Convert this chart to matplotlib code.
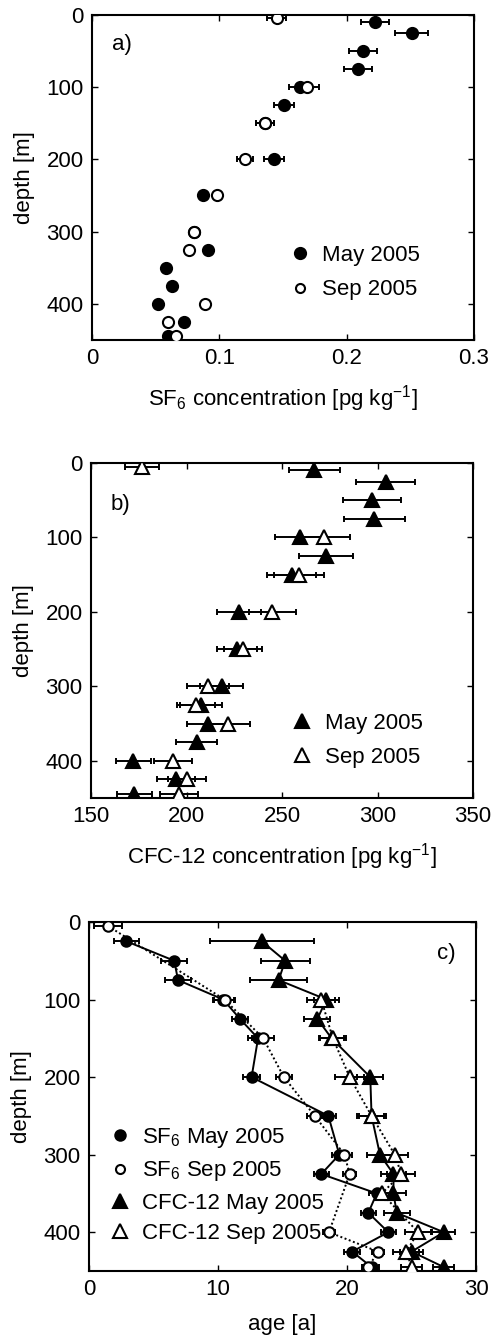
import matplotlib
matplotlib.use('Agg')
import matplotlib.pyplot as plt
from matplotlib.lines import Line2D

# ---- panel a: SF6 concentration [pg/kg] vs depth [m]
sf6_may_depth = [10, 25, 50, 75, 100, 125, 150, 200, 250, 300, 325, 350, 375, 400, 425, 445]
sf6_may_conc = [0.222, 0.251, 0.213, 0.209, 0.163, 0.151, 0.136, 0.143, 0.087, 0.080,
                0.091, 0.058, 0.063, 0.052, 0.072, 0.060]
sf6_may_err = [0.011, 0.013, 0.011, 0.011, 0.008, 0.008, 0.007, 0.008, 0.003, 0.003,
               0.003, 0.003, 0.003, 0.003, 0.003, 0.003]
sf6_sep_depth = [5, 100, 150, 200, 250, 300, 325, 400, 425, 445]
sf6_sep_conc = [0.145, 0.169, 0.136, 0.120, 0.098, 0.080, 0.076, 0.089, 0.060, 0.066]
sf6_sep_err = [0.0075, 0.009, 0.007, 0.0065, 0.003, 0.003, 0.003, 0.003, 0.003, 0.003]

# ---- panel b: CFC-12 concentration [pg/kg] vs depth [m]
cfc_may_depth = [10, 25, 50, 75, 100, 125, 150, 200, 250, 300, 325, 350, 375, 400, 425, 445]
cfc_may_conc = [266.8, 304.3, 297.3, 298.4, 259.4, 273.0, 255.0, 227.5, 226.3, 218.4,
                207.4, 211.4, 205.3, 172.2, 194.3, 172.7]
cfc_may_err = [13.4, 15.4, 15.2, 16.0, 13.0, 14.0, 13.0, 11.7, 10.5, 11.3,
               11.0, 11.3, 10.7, 9.3, 10.0, 9.0]
cfc_sep_depth = [5, 100, 150, 200, 250, 300, 325, 350, 400, 425, 445]
cfc_sep_conc = [176.5, 272.0, 259.0, 245.0, 229.7, 211.0, 205.0, 221.9, 193.1, 200.1, 196.0]
cfc_sep_err = [8.9, 13.6, 13.0, 12.4, 10.0, 11.0, 10.0, 11.3, 9.9, 10.0, 10.0]

# ---- panel c: ages [a] vs depth [m]
age_sf6_may_depth = [25, 50, 75, 100, 125, 150, 200, 250, 300, 325, 350, 375, 400, 425, 445]
age_sf6_may = [2.9, 6.6, 6.9, 10.4, 11.7, 13.1, 12.6, 18.55, 19.4, 18.0, 22.3, 21.65, 23.2, 20.4, 21.9]
age_sf6_may_err = [1.0, 1.0, 1.0, 0.8, 0.65, 0.8, 0.65, 0.6, 0.6, 0.6, 0.6, 0.6, 0.6, 0.6, 0.6]
age_sf6_sep_depth = [5, 100, 150, 200, 250, 300, 325, 400, 425, 445]
age_sf6_sep = [1.45, 10.5, 13.5, 15.1, 17.5, 19.8, 20.2, 18.6, 22.4, 21.65]
age_sf6_sep_err = [1.1, 0.8, 0.85, 0.6, 0.6, 0.6, 0.5, 0.5, 0.5, 0.5]
age_cfc_may_depth = [25, 50, 75, 100, 125, 150, 200, 250, 300, 325, 350, 375, 400, 425, 445]
age_cfc_may = [13.4, 15.2, 14.7, 18.4, 17.7, 18.8, 21.8, 21.9, 22.55, 23.6, 23.6, 23.85, 27.5, 25.0, 27.5]
age_cfc_may_err = [4.0, 1.9, 2.2, 1.0, 1.0, 1.0, 1.0, 1.0, 1.0, 1.0, 1.0, 1.0, 0.9, 0.9, 0.8]
age_cfc_sep_depth = [100, 150, 200, 250, 300, 325, 350, 400, 425, 445]
age_cfc_sep = [18.0, 18.9, 20.2, 21.9, 23.7, 24.2, 22.7, 25.5, 24.6, 25.0]
age_cfc_sep_err = [1.1, 1.0, 1.1, 1.15, 1.0, 1.1, 1.0, 1.0, 1.0, 0.8]

plt.rcParams['font.family'] = ['Liberation Sans', 'DejaVu Sans']
plt.rcParams['mathtext.fontset'] = 'custom'
plt.rcParams['mathtext.rm'] = 'Liberation Sans'
plt.rcParams['mathtext.it'] = 'Liberation Sans:italic'
plt.rcParams['mathtext.default'] = 'regular'

FS = 16


def style(ax, xlim, xticks, xticklabels):
    ax.set_xlim(xlim)
    ax.set_xticks(xticks)
    ax.set_xticklabels(xticklabels)
    ax.set_ylim(450, 0)
    ax.set_yticks([0, 100, 200, 300, 400])
    ax.tick_params(direction='in', top=True, right=True, length=4, width=1,
                   labelsize=FS, pad=6)
    for s in ax.spines.values():
        s.set_linewidth(1.5)
    ax.set_ylabel('depth [m]', fontsize=FS, labelpad=8)


def series(ax, x, d, err, marker, filled, ms, ls='none'):
    ax.errorbar(x, d, xerr=err, fmt='none', ecolor='k', elinewidth=1.4,
                capsize=2.5, capthick=1.4, zorder=2)
    ax.plot(x, d, marker=marker, ls=ls, color='k', lw=1.4,
            mfc='k' if filled else 'white', mec='k', mew=1.5, ms=ms, zorder=3)


def handle(marker, filled, ms):
    return Line2D([], [], marker=marker, ls='none', mfc='k' if filled else 'white',
                  mec='k', mew=1.5, ms=ms)


fig = plt.figure(figsize=(4.92, 13.41), dpi=100)
ax1 = fig.add_axes([0.187, 0.7465, 0.7764, 0.2424])
ax2 = fig.add_axes([0.185, 0.4049, 0.7764, 0.2498])
ax3 = fig.add_axes([0.181, 0.0522, 0.7866, 0.2603])

# a)
series(ax1, sf6_may_conc, sf6_may_depth, sf6_may_err, 'o', True, 8)
series(ax1, sf6_sep_conc, sf6_sep_depth, sf6_sep_err, 'o', False, 8)
style(ax1, (0, 0.3), [0, 0.1, 0.2, 0.3], ['0', '0.1', '0.2', '0.3'])
ax1.set_xlabel('SF$_6$ concentration [pg kg$^{-1}$]', fontsize=FS, labelpad=10)
ax1.text(0.052, 0.91, 'a)', transform=ax1.transAxes, fontsize=FS, va='center')
ax1.legend([handle('o', True, 8), handle('o', False, 6.5)], ['May 2005', 'Sep 2005'],
           loc='lower right', bbox_to_anchor=(0.91, 0.06), frameon=False,
           fontsize=FS, handlelength=1.0, handletextpad=0.5, labelspacing=0.6)

# b)
series(ax2, cfc_may_conc, cfc_may_depth, cfc_may_err, '^', True, 10)
series(ax2, cfc_sep_conc, cfc_sep_depth, cfc_sep_err, '^', False, 10)
style(ax2, (150, 350), [150, 200, 250, 300, 350], ['150', '200', '250', '300', '350'])
ax2.set_xlabel('CFC-12 concentration [pg kg$^{-1}$]', fontsize=FS, labelpad=10)
ax2.text(0.052, 0.875, 'b)', transform=ax2.transAxes, fontsize=FS, va='center')
ax2.legend([handle('^', True, 10), handle('^', False, 10)], ['May 2005', 'Sep 2005'],
           loc='lower right', bbox_to_anchor=(0.92, 0.03), frameon=False,
           fontsize=FS, handlelength=1.0, handletextpad=0.5, labelspacing=0.6)

# c)
series(ax3, age_sf6_may, age_sf6_may_depth, age_sf6_may_err, 'o', True, 7.5, '-')
series(ax3, age_sf6_sep, age_sf6_sep_depth, age_sf6_sep_err, 'o', False, 7.5, (0, (1, 1.3)))
series(ax3, age_cfc_may, age_cfc_may_depth, age_cfc_may_err, '^', True, 10, '-')
series(ax3, age_cfc_sep, age_cfc_sep_depth, age_cfc_sep_err, '^', False, 10, (0, (1, 1.3)))
style(ax3, (0, 30), [0, 10, 20, 30], ['0', '10', '20', '30'])
ax3.set_xlabel('age [a]', fontsize=FS, labelpad=10)
ax3.text(0.9, 0.91, 'c)', transform=ax3.transAxes, fontsize=FS, va='center')
ax3.legend([handle('o', True, 7.5), handle('o', False, 6.5),
            handle('^', True, 10), handle('^', False, 10)],
           ['SF$_6$ May 2005', 'SF$_6$ Sep 2005', 'CFC-12 May 2005', 'CFC-12 Sep 2005'],
           loc='lower left', bbox_to_anchor=(0.0, 0.02), frameon=False,
           fontsize=FS, handlelength=1.0, handletextpad=0.5, labelspacing=0.42)

fig.savefig('out.png', dpi=100)
